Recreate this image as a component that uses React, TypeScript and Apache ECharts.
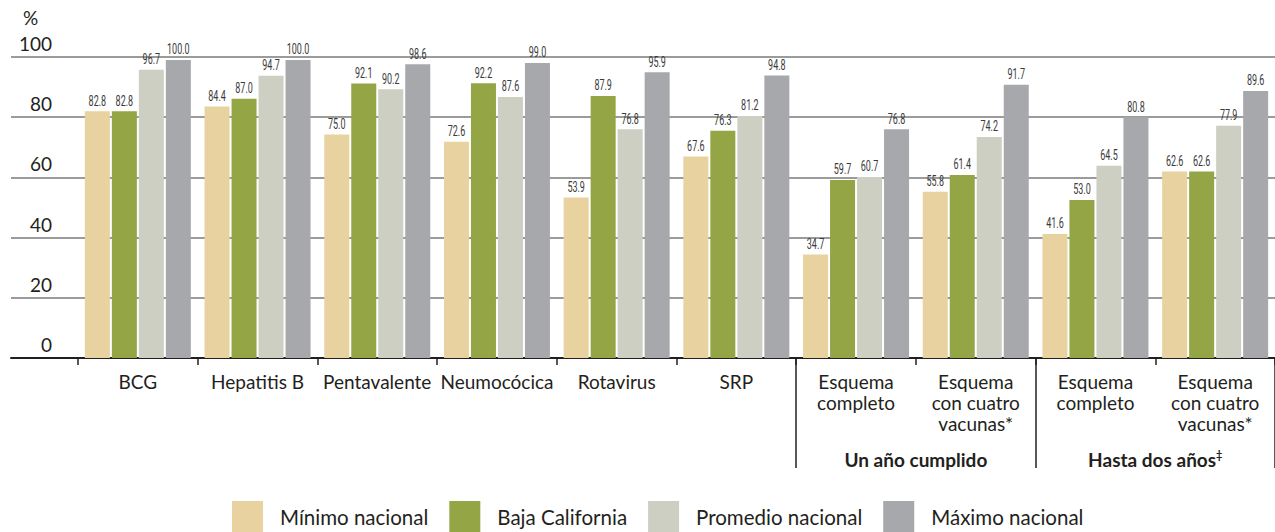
import React, { useEffect, useRef } from "react";
import * as echarts from "echarts";

const categories = [
  "BCG",
  "Hepatitis B",
  "Pentavalente",
  "Neumocócica",
  "Rotavirus",
  "SRP",
  "Esquema\ncompleto",
  "Esquema\ncon cuatro\nvacunas*",
  "Esquema\ncompleto",
  "Esquema\ncon cuatro\nvacunas*",
];
const seriesNames = ["Mínimo nacional", "Baja California", "Promedio nacional", "Máximo nacional"];
const minimoNacional = [82.8, 84.4, 75.0, 72.6, 53.9, 67.6, 34.7, 55.8, 41.6, 62.6];
const bajaCalifornia = [82.8, 87.0, 92.1, 92.2, 87.9, 76.3, 59.7, 61.4, 53.0, 62.6];
const promedioNacional = [96.7, 94.7, 90.2, 87.6, 76.8, 81.2, 60.7, 74.2, 64.5, 77.9];
const maximoNacional = [100.0, 100.0, 98.6, 99.0, 95.9, 94.8, 76.8, 91.7, 80.8, 89.6];
const seriesColors = ["#e8d3a0", "#93a544", "#cccfc2", "#a7a8ac"];
const yMin = 0;
const yMax = 100;
const yStep = 20;
const groupLabels = ["Un año cumplido", "Hasta dos años‡"];
const groupStarts = [6, 8];
const unitLabel = "%";

const FONT = "Lato, 'Open Sans', sans-serif";
const TEXT = "#231f20";
const BAR_W = 25;
const BAR_GAP_PX = 2;

export default function App() {
  const ref = useRef<HTMLDivElement>(null);

  useEffect(() => {
    if (!ref.current) return;
    const chart = echarts.init(ref.current, undefined, { renderer: "svg" });
    const values = [minimoNacional, bajaCalifornia, promedioNacional, maximoNacional];
    const n = values.length;

    const barSeries = seriesNames.map((name, k) => ({
      name,
      type: "bar",
      xAxisIndex: 0,
      yAxisIndex: 0,
      data: values[k],
      barWidth: BAR_W,
      barGap: `${(BAR_GAP_PX / BAR_W) * 100}%`,
      itemStyle: { color: seriesColors[k] },
      label: { show: false },
    }));

    // condensed value labels, positioned through the axis scales
    const labelSeries = values.map((vals, k) => ({
      type: "custom",
      xAxisIndex: 0,
      yAxisIndex: 0,
      silent: true,
      z: 5,
      data: vals.map((v, i) => [i, v]),
      encode: { x: 0, y: 1 },
      renderItem: (_params: any, api: any) => {
        const idx = api.value(0);
        const v = api.value(1);
        const p = api.coord([idx, v]);
        const off = (k - (n - 1) / 2) * (BAR_W + BAR_GAP_PX);
        return {
          type: "text",
          x: p[0] + off,
          y: p[1] - 3,
          scaleX: 0.6,
          style: {
            text: Number(v).toFixed(1),
            fontFamily: "Roboto, sans-serif",
            fontSize: 15,
            fill: "#3a3a3a",
            align: "center",
            verticalAlign: "bottom",
          },
        };
      },
    }));

    const option: any = {
      animation: false,
      grid: [
        { left: 78, width: 1200, top: 60, height: 298, containLabel: false },
        { left: 11, width: 1264, top: 57, height: 301, containLabel: false },
      ],
      legend: {
        data: seriesNames,
        left: 232,
        top: 501,
        padding: 0,
        icon: "rect",
        itemWidth: 31,
        itemHeight: 31,
        itemGap: 21,
        textStyle: { fontFamily: FONT, fontSize: 20.5, color: TEXT, padding: [0, 0, 0, 12], lineHeight: 31 },
        selectedMode: false,
      },
      xAxis: [
        {
          type: "category",
          gridIndex: 0,
          data: categories,
          axisLine: { show: false },
          axisTick: { show: true, length: 7, lineStyle: { color: TEXT, width: 1.5 }, interval: 0 },
          axisLabel: {
            interval: 0,
            margin: 13,
            fontFamily: FONT,
            fontSize: 19,
            lineHeight: 21,
            color: TEXT,
          },
        },
        {
          type: "category",
          gridIndex: 0,
          position: "bottom",
          data: categories,
          axisLine: { show: false },
          axisLabel: { show: false },
          axisTick: {
            show: true,
            length: 110,
            lineStyle: { color: TEXT, width: 1.5 },
            interval: (i: number) => groupStarts.includes(i),
          },
        },
        {
          type: "value",
          gridIndex: 1,
          min: 0,
          max: 1,
          axisLine: { show: true, onZero: false, lineStyle: { color: TEXT, width: 2 } },
          axisTick: { show: false },
          axisLabel: { show: false },
          splitLine: { show: false },
        },
      ],
      yAxis: [
        { type: "value", gridIndex: 0, min: yMin, max: yMax, show: false },
        {
          type: "value",
          gridIndex: 1,
          min: yMin,
          max: yMax,
          interval: yStep,
          axisLine: { show: false },
          axisTick: { show: false },
          splitLine: { show: true, lineStyle: { color: "#7a7a7a", width: 1.5 } },
          axisLabel: {
            inside: true,
            margin: 41,
            align: "right",
            verticalAlign: "bottom",
            padding: [0, 0, 4, 0],
            fontFamily: FONT,
            fontSize: 19,
            color: TEXT,
          },
        },
      ],
      series: [...barSeries, ...labelSeries],
    };

    chart.setOption(option);

    const c0 = chart.convertToPixel({ xAxisIndex: 0 }, 0) as number;
    const c1 = chart.convertToPixel({ xAxisIndex: 0 }, 1) as number;
    const band = c1 - c0;
    const graphics: any[] = [
      {
        type: "text",
        left: 23,
        top: 8,
        style: { text: unitLabel, fontFamily: FONT, fontSize: 19, fill: TEXT },
      },
    ];
    groupStarts.forEach((start, g) => {
      const cx = (chart.convertToPixel({ xAxisIndex: 0 }, start) as number) + band / 2;
      const txt = groupLabels[g].replace("‡", "{sup|‡}");
      graphics.push({
        type: "text",
        x: cx,
        y: 459,
        style: {
          text: txt,
          fontFamily: FONT,
          fontSize: 19,
          fontWeight: "bold",
          fill: TEXT,
          align: "center",
          verticalAlign: "middle",
          rich: {
            sup: {
              fontFamily: FONT,
              fontSize: 11,
              fontWeight: "bold",
              fill: TEXT,
              padding: [0, 0, 10, 0],
            },
          },
        },
      });
    });
    chart.setOption({ graphic: graphics });

    return () => chart.dispose();
  }, []);

  return (
    <div
      ref={ref}
      style={{ position: "fixed", left: 0, top: 0, width: 1275, height: 532, background: "#fff" }}
    />
  );
}
